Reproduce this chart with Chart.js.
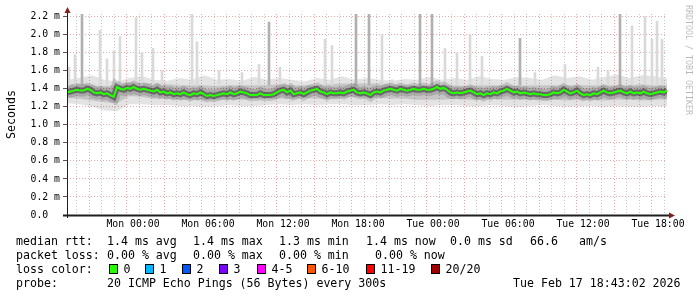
<!doctype html>
<meta charset="utf-8">
<title>Smokeping latency</title>
<style>
    html, body { margin: 0; padding: 0; background: #fff; }
    #wrap { position: relative; width: 697px; height: 297px; }
</style>
<body>
<div id="wrap"><canvas id="chart" width="697" height="297"></canvas></div>
<script src="https://cdn.jsdelivr.net/npm/chart.js@4/dist/chart.umd.min.js"></script>
<script>
// time in hours relative to Mon 00:00, the graph spans Sun 18:43 .. Tue 18:43
const startHour = -5.28;
const endHour = 42.72;
const medianStepHours = 16 / 60;

// median rtt in ms, one value every 16 minutes
const medianRtt = [
    1.36,1.37,1.38,1.39,1.38,1.38,1.40,1.39,1.36,1.35,
    1.36,1.34,1.35,1.33,1.31,1.42,1.40,1.39,1.41,1.40,
    1.42,1.40,1.39,1.40,1.39,1.38,1.37,1.39,1.36,1.37,
    1.35,1.36,1.34,1.35,1.34,1.36,1.34,1.33,1.35,1.34,
    1.36,1.34,1.32,1.33,1.32,1.33,1.34,1.35,1.34,1.36,
    1.34,1.35,1.37,1.36,1.35,1.33,1.33,1.33,1.35,1.33,
    1.33,1.33,1.34,1.36,1.38,1.39,1.36,1.38,1.34,1.35,
    1.36,1.34,1.36,1.38,1.39,1.40,1.37,1.36,1.34,1.36,
    1.35,1.35,1.36,1.35,1.37,1.38,1.39,1.36,1.35,1.36,
    1.35,1.33,
    1.36,1.37,1.36,1.38,1.39,1.40,1.39,1.38,1.40,1.39,
    1.38,1.39,1.40,1.39,1.39,1.40,1.39,1.39,1.40,1.42,
    1.40,1.41,1.39,1.36,1.35,1.36,1.35,1.36,1.37,1.38,
    1.36,1.34,1.35,1.33,1.35,1.34,1.36,1.35,1.37,1.38,
    1.40,1.38,1.36,1.37,1.35,1.36,1.35,1.34,1.35,1.34,
    1.34,1.33,1.33,1.34,1.36,1.35,1.36,1.39,1.37,1.35,
    1.36,1.38,1.35,1.33,1.34,1.33,1.35,1.34,1.36,1.38,
    1.36,1.35,1.36,1.37,1.38,1.36,1.35,1.37,1.35,1.36,
    1.35,1.37,1.35,1.34,1.35,1.36,1.37,1.36,1.38
];

// smoke envelope, one value per hour
const smokeOuterLow = [
    1.24,1.23,1.20,1.16,1.15,1.23,1.23,1.22,1.22,1.21,1.21,1.20,1.21,1.22,1.21,1.21,1.22,
    1.23,1.22,1.23,1.22,1.23,1.23,1.22,1.22,1.23,1.22,1.23,1.22,1.21,1.22,1.22,1.21,
    1.21,1.22,1.21,1.20,1.21,1.22,1.21,1.20,1.21,1.21,1.20,1.21,1.20,1.20,1.21,1.20
];
const smokeOuterHigh = [
    1.50,1.52,1.55,1.50,1.48,1.52,1.54,1.50,1.49,1.52,1.50,1.55,1.50,1.51,1.49,1.53,1.50,
    1.52,1.50,1.48,1.52,1.50,1.54,1.50,1.52,1.50,1.49,1.51,1.50,1.53,1.50,1.52,1.50,
    1.54,1.51,1.50,1.53,1.52,1.50,1.55,1.52,1.54,1.50,1.53,1.56,1.52,1.55,1.54,1.52
];
const smokeInnerLow = [
    1.30,1.29,1.27,1.25,1.24,1.32,1.31,1.29,1.29,1.28,1.28,1.27,1.28,1.28,1.28,1.29,1.29,
    1.29,1.29,1.30,1.29,1.29,1.30,1.31,1.30,1.30,1.29,1.29,1.28,1.28,1.28,1.29,1.28,
    1.28,1.29,1.28,1.28,1.28,1.28,1.28,1.27,1.28,1.28,1.27,1.28,1.28,1.27,1.28,1.28
];
const smokeInnerHigh = [
    1.45,1.46,1.44,1.43,1.44,1.47,1.47,1.46,1.45,1.44,1.44,1.44,1.43,1.44,1.44,1.44,1.44,
    1.45,1.44,1.44,1.44,1.45,1.46,1.46,1.46,1.46,1.45,1.44,1.44,1.44,1.44,1.44,1.43,
    1.44,1.44,1.44,1.43,1.44,1.44,1.44,1.44,1.44,1.44,1.44,1.44,1.44,1.45,1.44,1.44
];

// single slow pings sticking out of the smoke
const spikeHours = [-5.12,-4.64,-4.08,-2.64,-2.08,-1.52,-1.04,0.24,0.72,1.6,2.32,4.72,5.12,6.88,8.72,
    10.08,10.88,11.76,15.36,15.92,17.84,18.88,19.92,20.72,22.96,23.92,24.96,25.92,26.96,27.92,
    30.96,32.16,34.56,37.2,38.0,38.96,39.92,40.96,41.52,41.92,42.32];
const spikeTops = [1.64,1.78,2.23,2.05,1.73,1.82,1.98,2.19,1.80,1.85,1.60,2.23,1.92,1.60,1.58,
    1.67,2.14,1.64,1.95,1.88,2.23,2.23,2.00,1.50,2.23,2.23,1.85,1.80,2.00,1.76,
    1.96,1.58,1.67,1.64,1.60,2.23,2.10,2.20,1.95,2.15,1.95];
const spikeDark = [0,0,1,0,0,0,0,0,0,0,0,0,0,0,0,
    0,1,0,0,0,1,1,0,0,1,1,0,0,0,0,
    1,0,0,0,0,1,0,0,0,0,0];
const spikeBase = 1.44;

const hourLabels = { 0: "Mon 00:00", 6: "Mon 06:00", 12: "Mon 12:00", 18: "Mon 18:00",
    24: "Tue 00:00", 30: "Tue 06:00", 36: "Tue 12:00", 42: "Tue 18:00" };

const statRows = [
    ["median rtt:", "1.4 ms avg", "1.4 ms max", "1.3 ms min", "1.4 ms now", "0.0 ms sd", "66.6", "am/s"],
    ["packet loss:", "0.00 % avg", "0.00 % max", "0.00 % min", "0.00 % now"],
];
const lossLabels = ["0", "1", "2", "3", "4-5", "6-10", "11-19", "20/20"];
const lossColors = ["#26ff00", "#00b8ff", "#0059ff", "#7e00ff", "#ff00ff", "#ff5500", "#ff0000", "#a10000"];
const probeText = "20 ICMP Echo Pings (56 Bytes) every 300s";
const stampText = "Tue Feb 17 18:43:02 2026";

const mono = "'DejaVu Sans Mono', monospace";
const majorGrid = "rgba(222,79,79,0.5)";
const minorGrid = "rgba(143,143,143,0.5)";

const medianPoints = medianRtt.map((v, i) => ({ x: startHour + i * medianStepHours, y: v }));
const hourly = (arr) => arr.map((v, i) => ({ x: startHour + i, y: v }));
const spikes = (dark) => spikeHours
    .map((h, i) => ({ x: h, y: [spikeBase, spikeTops[i]], d: spikeDark[i] }))
    .filter(p => p.d === dark);

const decor = {
    id: "decor",
    beforeDraw(chart) {
        const ctx = chart.ctx;
        ctx.save();
        ctx.fillStyle = "#fff";
        ctx.fillRect(0, 0, chart.width, chart.height);
        ctx.restore();
    },
    afterDraw(chart) {
        const ctx = chart.ctx;
        const a = chart.chartArea;
        ctx.save();
        // axes
        ctx.strokeStyle = "#1f1f1f";
        ctx.lineWidth = 1;
        ctx.beginPath();
        ctx.moveTo(a.left + 0.5, a.bottom + 3);
        ctx.lineTo(a.left + 0.5, a.top - 3);
        ctx.stroke();
        ctx.lineWidth = 2;
        ctx.beginPath();
        ctx.moveTo(a.left - 4, a.bottom + 0.5);
        ctx.lineTo(a.right + 4, a.bottom + 0.5);
        ctx.stroke();
        // arrows
        ctx.fillStyle = "#801f1f";
        ctx.beginPath();
        ctx.moveTo(a.left + 0.5, a.top - 7);
        ctx.lineTo(a.left - 2.5, a.top - 1);
        ctx.lineTo(a.left + 3.5, a.top - 1);
        ctx.fill();
        ctx.beginPath();
        ctx.moveTo(a.right + 8, a.bottom + 0.5);
        ctx.lineTo(a.right + 2, a.bottom - 2.5);
        ctx.lineTo(a.right + 2, a.bottom + 3.5);
        ctx.fill();

        // watermark
        ctx.save();
        ctx.translate(688, 5);
        ctx.rotate(Math.PI / 2);
        ctx.font = "8.3px " + mono;
        ctx.fillStyle = "rgba(0,0,0,0.28)";
        ctx.textBaseline = "middle";
        ctx.fillText("RRDTOOL / TOBI OETIKER", 0, 0);
        ctx.restore();

        // legend lines
        ctx.font = "11.6px " + mono;
        ctx.fillStyle = "#000";
        ctx.textBaseline = "alphabetic";
        const rowX = [
            [16, 107, 193, 279, 366, 450, 530, 579],
            [16, 107, 193, 279, 375],
        ];
        const baseY = [245, 259, 273, 286.5];
        statRows.forEach((row, r) => {
            row.forEach((t, i) => ctx.fillText(t, rowX[r][i], baseY[r]));
        });
        ctx.fillText("loss color:", 16, baseY[2]);
        const boxX = [109, 145, 182, 219, 257, 307, 366, 431];
        lossLabels.forEach((lab, i) => {
            ctx.fillStyle = lossColors[i];
            ctx.fillRect(boxX[i], baseY[2] - 9, 8, 9);
            ctx.strokeStyle = "#000";
            ctx.lineWidth = 1;
            ctx.strokeRect(boxX[i] + 0.5, baseY[2] - 8.5, 8, 9);
            ctx.fillStyle = "#000";
            ctx.fillText(lab, boxX[i] + 14.5, baseY[2]);
        });
        ctx.fillText("probe:", 16, baseY[3]);
        ctx.fillText(probeText, 107, baseY[3]);
        ctx.fillText(stampText, 513, baseY[3]);
        ctx.restore();
    }
};

new Chart(document.getElementById("chart"), {
    type: "line",
    data: {
        datasets: [{
            label: "outer low",
            data: hourly(smokeOuterLow),
            borderWidth: 0,
            pointRadius: 0,
            fill: false,
            order: 9,
        }, {
            label: "outer high",
            data: hourly(smokeOuterHigh),
            borderWidth: 0,
            pointRadius: 0,
            fill: "-1",
            backgroundColor: "rgba(0,0,0,0.11)",
            order: 9,
        }, {
            label: "inner low",
            data: hourly(smokeInnerLow),
            borderWidth: 0,
            pointRadius: 0,
            fill: false,
            order: 8,
        }, {
            label: "inner high",
            data: hourly(smokeInnerHigh),
            borderWidth: 0,
            pointRadius: 0,
            fill: "-1",
            backgroundColor: "rgba(0,0,0,0.13)",
            order: 8,
        }, {
            type: "bar",
            label: "spikes",
            data: spikes(0),
            backgroundColor: "#d9d9d9",
            barThickness: 2,
            grouped: false,
            order: 7,
        }, {
            type: "bar",
            label: "spikes dark",
            data: spikes(1),
            backgroundColor: "#b0b0b0",
            barThickness: 2,
            grouped: false,
            order: 6,
        }, {
            label: "smoke haze",
            data: medianPoints,
            borderColor: "rgba(0,0,0,0.14)",
            borderWidth: 12,
            pointRadius: 0,
            fill: false,
            order: 4,
        }, {
            label: "smoke core",
            data: medianPoints,
            borderColor: "rgba(0,0,0,0.38)",
            borderWidth: 6,
            pointRadius: 0,
            fill: false,
            order: 3,
        }, {
            label: "median rtt",
            data: medianPoints,
            borderColor: "#26ff00",
            borderWidth: 2,
            pointRadius: 0,
            fill: false,
            order: 1,
        }],
    },
    options: {
        responsive: false,
        animation: false,
        events: [],
        layout: { padding: { left: 0, right: 30, top: 14, bottom: 62 } },
        plugins: {
            legend: { display: false },
            tooltip: { enabled: false },
        },
        scales: {
            x: {
                type: "linear",
                min: startHour,
                max: endHour,
                offset: false,
                afterFit: s => { s.height = 20; },
                afterBuildTicks: s => {
                    const t = [];
                    for (let h = Math.ceil(startHour); h <= endHour; h++) t.push({ value: h });
                    s.ticks = t;
                },
                ticks: {
                    autoSkip: false,
                    maxRotation: 0,
                    padding: 4,
                    color: "#000",
                    font: { family: mono, size: 9.8 },
                    callback: v => hourLabels[v] || "",
                },
                grid: {
                    drawTicks: false,
                    color: c => (c.tick && ((c.tick.value % 3) + 3) % 3 === 0) ? majorGrid : minorGrid,
                },
                border: { display: false, dash: [1, 2] },
            },
            y: {
                min: 0,
                max: 2.23,
                afterFit: s => { s.width = 67; },
                afterBuildTicks: s => {
                    const t = [];
                    for (let i = 0; i <= 22; i++) t.push({ value: i / 10 });
                    s.ticks = t;
                },
                ticks: {
                    padding: 3,
                    color: "#000",
                    font: { family: mono, size: 9.8 },
                    callback: v => {
                        const k = Math.round(v * 10);
                        if (k % 2) return "";
                        return k === 0 ? "0.0  " : (k / 10).toFixed(1) + " m";
                    },
                },
                grid: {
                    tickLength: 4,
                    tickColor: "#555",
                    color: c => (c.tick && Math.round(c.tick.value * 10) % 2 === 0) ? majorGrid : minorGrid,
                },
                border: { display: false, dash: [1, 2] },
                title: {
                    display: true,
                    text: "Seconds",
                    color: "#000",
                    font: { family: mono, size: 11.6 },
                    padding: { top: 5, bottom: 0 },
                },
            },
        },
    },
    plugins: [decor],
});
</script>
</body>
